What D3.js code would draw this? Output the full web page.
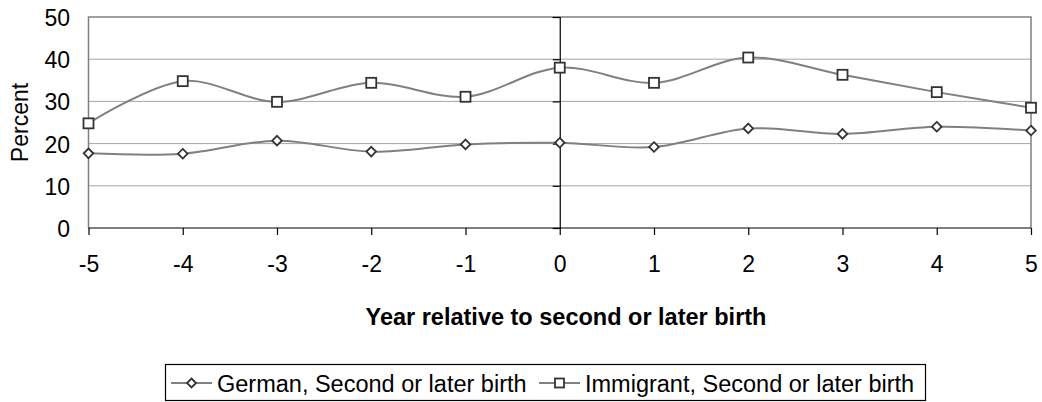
<!DOCTYPE html>
<html><head><meta charset="utf-8">
<script src="https://cdn.jsdelivr.net/npm/d3@7/dist/d3.min.js"></script>
<style>body{margin:0;background:#fff}svg{display:block;font-family:"Liberation Sans",Arial,sans-serif}</style>
</head><body>
<svg id="c" width="1042" height="402"></svg>
<script>
const years = [-5,-4,-3,-2,-1,0,1,2,3,4,5];
const germanValues = [17.7,17.6,20.7,18.1,19.8,20.2,19.2,23.6,22.3,24.0,23.1];
const immigrantValues = [24.8,34.8,29.9,34.4,31.1,38.0,34.4,40.4,36.3,32.2,28.5];
const yTicks = [0,10,20,30,40,50];
const seriesNames = ["German, Second or later birth","Immigrant, Second or later birth"];
const xTitle = "Year relative to second or later birth";
const yTitle = "Percent";

const svg = d3.select("#c");
const L=88.5, R=1031, T=17, B=228;
const x = d3.scaleLinear().domain([-5,5]).range([L,R]);
const y = d3.scaleLinear().domain([0,50]).range([B,T]);
const fs = 23;

// gridlines
svg.append("g").selectAll("line").data(yTicks.filter(d=>d>0&&d<50)).join("line")
  .attr("x1",L).attr("x2",R).attr("y1",d=>y(d)).attr("y2",d=>y(d))
  .attr("stroke","#a6a6a6").attr("stroke-width",1);
// plot border (gray)
svg.append("path").attr("d",`M${L},${B}V${T}H${R}V${B}`).attr("fill","none")
  .attr("stroke","#808080").attr("stroke-width",1.5);

// y axis at x=0
const yAxis = d3.axisLeft(y).tickValues(yTicks).tickSize(7).tickFormat("");
const ya = svg.append("g").attr("transform",`translate(${x(0)},0)`).call(yAxis);
ya.select(".domain").attr("stroke","#000").attr("stroke-width",1.2);
ya.selectAll(".tick line").attr("stroke","#000").attr("stroke-width",1.2);
// y labels at left
svg.append("g").selectAll("text").data(yTicks).join("text")
  .attr("x",70).attr("y",d=>y(d)+1).attr("dy","0.35em").attr("text-anchor","end")
  .attr("font-size",fs).attr("fill","#000").text(d=>d);

// x axis
const xAxis = d3.axisBottom(x).tickValues(years).tickSize(7).tickFormat(d3.format("d"));
const xa = svg.append("g").attr("transform",`translate(0,${B})`).call(xAxis);
xa.select(".domain").attr("stroke","#000").attr("stroke-width",1.2).attr("d",`M${L},0H${R}`);
xa.selectAll(".tick line").attr("stroke","#000").attr("stroke-width",1.2);
xa.selectAll(".tick text").attr("font-size",fs).attr("font-family","Liberation Sans, Arial, sans-serif")
  .attr("fill","#000").attr("y",44).attr("dy",0).text(d=>String(d).replace("\u2212","-"));

// titles
svg.append("text").attr("x",566).attr("y",325).attr("text-anchor","middle")
  .attr("font-size",23.5).attr("font-weight","bold").text(xTitle);
svg.append("text").attr("transform",`translate(28,${(T+B)/2}) rotate(-90)`).attr("text-anchor","middle")
  .attr("font-size",fs).text(yTitle);

// lines
const line = d3.line().x((d,i)=>x(years[i])).y(d=>y(d)).curve(d3.curveCatmullRom.alpha(0.5));
[germanValues, immigrantValues].forEach(vals=>{
  svg.append("path").attr("d",line(vals)).attr("fill","none").attr("stroke","#808080").attr("stroke-width",2);
});
function diamond(g,cx,cy,s){
  g.append("path").attr("d",`M${cx},${cy-s}L${cx+s},${cy}L${cx},${cy+s}L${cx-s},${cy}Z`)
   .attr("fill","#fff").attr("stroke","#333").attr("stroke-width",1.8);
}
function square(g,cx,cy,s){
  g.append("rect").attr("x",cx-s).attr("y",cy-s).attr("width",2*s).attr("height",2*s)
   .attr("fill","#fff").attr("stroke","#333").attr("stroke-width",1.8);
}
const mg = svg.append("g");
germanValues.forEach((v,i)=>diamond(mg,x(years[i]),y(v),4.8));
immigrantValues.forEach((v,i)=>square(mg,x(years[i]),y(v),5));

// legend
const lg = svg.append("g");
lg.append("rect").attr("x",165.5).attr("y",364.5).attr("width",760).attr("height",36)
  .attr("fill","#fff").attr("stroke","#000").attr("stroke-width",1.2);
const items=[{x:171,name:seriesNames[0],m:diamond},{x:539,name:seriesNames[1],m:square}];
items.forEach(it=>{
  lg.append("line").attr("x1",it.x).attr("x2",it.x+41).attr("y1",383).attr("y2",383)
    .attr("stroke","#808080").attr("stroke-width",2);
  if(it.m===diamond) diamond(lg,it.x+20.5,383,4.5); else square(lg,it.x+20.5,383,4.5);
  lg.append("text").attr("x",it.x+46).attr("y",391.5).attr("font-size",23.5).text(it.name);
});
</script>
</body></html>
